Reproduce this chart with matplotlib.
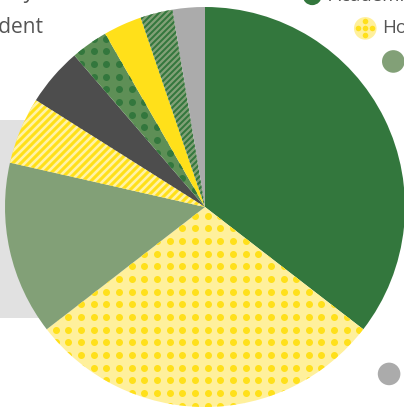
import numpy as np
import matplotlib
matplotlib.use("Agg")
import matplotlib.pyplot as plt
from matplotlib.collections import LineCollection
from matplotlib.patches import Circle, Rectangle

# --- datos (porcentajes) ---
labels = ["Academic", "Housing", "Food", "Personal", "Transportation",
          "Books & supplies", "Health", "Technology", "Other"]
shares = [35.4, 29.0, 14.0, 5.4, 4.7, 3.0, 3.1, 2.6, 2.6]
base_colors = ["#33773d", "#fff09c", "#82a077", "#ffe01a", "#4d4d4d",
               "#5e8f56", "#ffe01a", "#82a077", "#ababab"]
# patrón: None, 'dots', 'stripes'  y color del patrón
patterns = [None, "dots", None, "stripes", None, "dots", None, "stripes", None]
pattern_colors = [None, "#ffe01a", None, "#fff3a8", None, "#33773d", None, "#33773d", None]
pattern_spacing = [0, 12.65, 0, 8.0, 0, 12.65, 0, 6.0, 0]
pattern_width = [0, 7.0, 0, 2.6, 0, 7.0, 0, 2.0, 0]

W, H = 404, 407
CX, CY, R = 205, 200, 200
TEXT = "#555555"
FS_TITLE = 15
FS_LEG = 13.5

fig = plt.figure(figsize=(W / 100, H / 100), dpi=100)
ax = fig.add_axes([0, 0, 1, 1])

# rectángulo gris detrás del pie
ax.add_patch(Rectangle((0, 89), 120, 198, facecolor="#e1e1e1", edgecolor="none", zorder=0))

wedges, _ = ax.pie(shares, colors=base_colors, startangle=90, counterclock=False,
                   center=(CX, CY), radius=R, frame=True,
                   wedgeprops=dict(linewidth=0))
ax.set_xlim(0, W)
ax.set_ylim(0, H)
ax.axis("off")


def add_pattern(patch, kind, color, step, size):
    if kind == "dots":
        xs = np.arange(5.2, W + step, step)
        ys = np.arange(1.5, H + step, step)
        gx, gy = np.meshgrid(xs, ys)
        s = (size * 0.72) ** 2
        sc = ax.scatter(gx.ravel(), gy.ravel(), s=s, color=color, linewidths=0, zorder=3)
        sc.set_clip_path(patch)
    elif kind == "stripes":
        segs = []
        for c in np.arange(-2 * R - 200, 2 * R + 200, step):
            segs.append([(CX - R - 50, CY - R - 50 + c), (CX + R + 50, CY + R + 50 + c)])
        lc = LineCollection(segs, colors=color, linewidths=size * 0.72, zorder=3)
        lc.set_clip_path(patch)
        ax.add_collection(lc)


for w, kind, col, st, sz in zip(wedges, patterns, pattern_colors, pattern_spacing, pattern_width):
    if kind:
        add_pattern(w, kind, col, st, sz)

# leyenda en arco a la derecha
leg_angles = [63.1, 48.1, 37.7, 25, 12, 0, -14, -28, -42.2]
leg_radii = [237, 240, 238, 240, 242, 244, 246, 247, 248.5]
for i, (lab, ang, lr) in enumerate(zip(labels, leg_angles, leg_radii)):
    mx = CX + lr * np.cos(np.radians(ang))
    my = CY + lr * np.sin(np.radians(ang))
    rad = 9.5 if i == 0 else 11.3
    circ = Circle((mx, my), rad, facecolor=base_colors[i], edgecolor="none", zorder=4)
    ax.add_patch(circ)
    if patterns[i] == "dots":
        dx = np.array([0, -7, 0, 7, 0])
        dy = np.array([7, 0, 0, 0, -7])
        sc = ax.scatter(mx + dx, my + dy, s=16, color=pattern_colors[i], linewidths=0, zorder=5)
        sc.set_clip_path(circ)
    ax.text(mx + 17, my, lab, fontsize=FS_LEG, color=TEXT, family="Open Sans",
            ha="left", va="center", zorder=5)

# título cortado arriba a la izquierda
ax.text(90, H + 2, "Average yearly costs", fontsize=FS_TITLE, color=TEXT, family="Open Sans",
        ha="right", va="baseline")
ax.text(43, H - 33, "student", fontsize=FS_TITLE, color=TEXT, family="Open Sans",
        ha="right", va="baseline")

fig.savefig("out.png", dpi=100)
